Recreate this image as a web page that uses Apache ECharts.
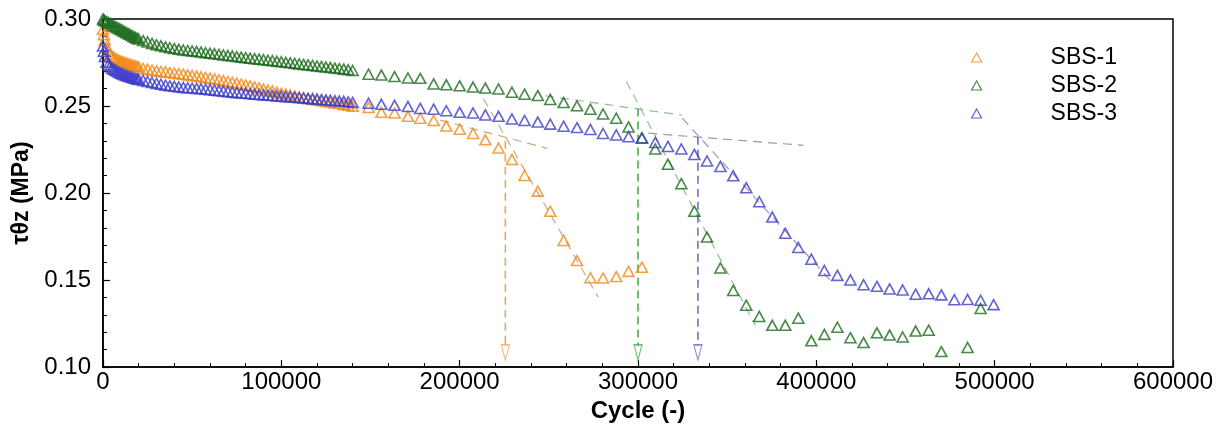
<!DOCTYPE html>
<html><head><meta charset="utf-8">
<script src="https://cdn.jsdelivr.net/npm/echarts/dist/echarts.min.js"></script>
<style>html,body{margin:0;padding:0;background:#fff}#c{width:1225px;height:428px}</style>
</head><body><div id="c"></div>
<script>
const seriesNames = ['SBS-1', 'SBS-2', 'SBS-3'];
const xAxisRange = [0, 600000, 100000];
const yAxisRange = [0.10, 0.30, 0.05];

// early (dense) readings, shared cycle positions
const denseCycles = [0,500,1000,2000,3000,4000,5000,6000,7000,8000,9000,10000,11000,12000,13000,14000,15000,16000,17000,18000,19000,20000,
  22500,25000,27500,30000,32500,35000,37500,40000,42500,45000,47500,50000,52500,55000,57500,60000,62500,65000,67500,70000,
  72500,75000,77500,80000,82500,85000,87500,90000,92500,95000,97500,100000,102500,105000,107500,110000,112500,115000,117500,
  120000,122500,125000,127500,130000,132500,135000,137500,140000];
const sbs1Dense = [0.2940,0.2910,0.2880,0.2840,0.2815,0.2798,0.2785,0.2779,0.2773,0.2768,0.2763,0.2758,0.2754,0.2750,0.2746,0.2743,0.2740,0.2737,0.2734,0.2731,0.2728,0.2725,
  0.2716,0.2711,0.2706,0.2702,0.2699,0.2696,0.2692,0.2689,0.2686,0.2683,0.2679,0.2676,0.2672,0.2668,0.2664,0.2660,0.2656,0.2651,0.2646,0.2641,
  0.2636,0.2631,0.2626,0.2621,0.2616,0.2610,0.2604,0.2598,0.2592,0.2586,0.2580,0.2574,0.2568,0.2563,0.2557,0.2552,0.2547,0.2543,0.2538,
  0.2534,0.2530,0.2526,0.2522,0.2518,0.2514,0.2509,0.2504,0.2499];
const sbs2Dense = [0.3000,0.2995,0.2990,0.2985,0.2980,0.2975,0.2966,0.2960,0.2955,0.2950,0.2945,0.2940,0.2934,0.2928,0.2922,0.2917,0.2912,0.2906,0.2900,0.2895,0.2890,0.2885,
  0.2876,0.2868,0.2860,0.2852,0.2846,0.2840,0.2835,0.2830,0.2826,0.2822,0.2819,0.2816,0.2813,0.2810,0.2806,0.2803,0.2800,0.2797,0.2793,0.2790,
  0.2787,0.2784,0.2781,0.2778,0.2775,0.2772,0.2769,0.2766,0.2763,0.2760,0.2757,0.2754,0.2751,0.2748,0.2745,0.2742,0.2739,0.2736,0.2733,
  0.2730,0.2727,0.2724,0.2721,0.2718,0.2715,0.2712,0.2708,0.2704];
const sbs3Dense = [0.2845,0.2815,0.2785,0.2752,0.2737,0.2727,0.2719,0.2712,0.2706,0.2700,0.2694,0.2689,0.2684,0.2680,0.2676,0.2672,0.2669,0.2665,0.2662,0.2659,0.2656,0.2653,
  0.2647,0.2641,0.2635,0.2630,0.2625,0.2620,0.2616,0.2613,0.2610,0.2607,0.2605,0.2603,0.2601,0.2599,0.2597,0.2594,0.2591,0.2588,0.2585,0.2582,
  0.2579,0.2577,0.2575,0.2573,0.2570,0.2568,0.2566,0.2564,0.2562,0.2560,0.2558,0.2556,0.2554,0.2552,0.2550,0.2548,0.2546,0.2544,0.2542,
  0.2540,0.2537,0.2535,0.2533,0.2531,0.2529,0.2527,0.2524,0.2521];

// later (sparse) readings, shared cycle positions
const sparseCycles = [148900,156100,163500,171000,177900,185400,192500,200000,207500,214400,221800,229300,236400,243800,
  250800,258300,265800,273300,280400,287800,294700,302200,309700,316800,324300,331600,338700,346200,353400,360700,
  368000,375300,382600,389900,397200,404500,411800,419100,426500,434000,441100,448400,455700,463000,470100,477400,
  484800,492100,499400];
const sbs1Sparse = [0.2492,0.2464,0.2460,0.2441,0.2430,0.2417,0.2385,0.2367,0.2342,0.2306,0.2259,0.2193,0.2101,0.2011,
  0.1896,0.1728,0.1612,0.1514,0.1512,0.1520,0.1550,0.1574];
const sbs2Sparse = [0.2683,0.2678,0.2669,0.2661,0.2659,0.2627,0.2622,0.2616,0.2609,0.2603,0.2598,0.2579,0.2568,0.2560,
  0.2538,0.2520,0.2501,0.2482,0.2454,0.2430,0.2380,0.2318,0.2253,0.2166,0.2054,0.1896,0.1747,0.1570,0.1440,0.1356,
  0.1291,0.1240,0.1240,0.1281,0.1151,0.1188,0.1229,0.1169,0.1141,0.1197,0.1184,0.1173,0.1207,0.1212,0.1089,null,
  0.1113,0.1337];
const sbs3Sparse = [0.2516,0.2510,0.2504,0.2497,0.2486,0.2482,0.2473,0.2464,0.2460,0.2449,0.2441,0.2426,0.2417,0.2408,
  0.2396,0.2384,0.2376,0.2365,0.2342,0.2334,0.2324,0.2315,0.2291,0.2268,0.2253,0.2222,0.2184,0.2153,0.2099,0.2030,
  0.1950,0.1862,0.1769,0.1687,0.1620,0.1555,0.1527,0.1501,0.1473,0.1464,0.1449,0.1443,0.1419,0.1421,0.1415,0.1387,
  0.1389,0.1384,0.1359];

// failure-point annotations: cycle, top of vertical guide, arrow level
const failureCycles = [225600, 300000, 333600];
const failureTop = [0.2300, 0.2486, 0.2324];
const guideBottom = 0.1125;
const arrowStress = 0.1084;
// tangent guide lines [[x1,y1],[x2,y2]]
const sbs1Tangents = [[[213300,0.2542],[277700,0.1402]], [[189100,0.2419],[249100,0.2257]]];
const sbs2Tangents = [[[293400,0.2642],[365800,0.1240]], [[248000,0.2559],[324800,0.2447]]];
const sbs3Tangents = [[[324800,0.2430],[409000,0.1486]], [[305800,0.2344],[392700,0.2274]]];

const colors = ['#F08A1C', '#1B6B1B', '#3C3CC8'];
const guideColors = ['#EDA858', '#45B045', '#6E6EC0'];
const tangentColors = ['#C9A887', '#93BE93', '#9797BE'];
const FONT = "'Liberation Sans', Arial, sans-serif";

function pairs(xs, ys) {
  return ys.map((y, i) => (y == null ? null : [xs[i], y])).filter(p => p);
}

const dense = [sbs1Dense, sbs2Dense, sbs3Dense];
const sparse = [sbs1Sparse, sbs2Sparse, sbs3Sparse];
const tangents = [sbs1Tangents, sbs2Tangents, sbs3Tangents];

const series = [];
for (let k = 0; k < 3; k++) {
  tangents[k].forEach((seg, j) => {
    series.push({
      type: 'line', name: 'tan' + k + j, data: seg, symbol: 'none', silent: true, z: 1,
      lineStyle: { color: tangentColors[k], width: 1.2, type: [9, 6] }
    });
  });
  series.push({
    type: 'line', name: 'guide' + k, symbol: 'none', silent: true, z: 1,
    data: [[failureCycles[k], failureTop[k]], [failureCycles[k], guideBottom]],
    lineStyle: { color: guideColors[k], width: 1.6, type: [8, 5] }
  });
  series.push({
    type: 'scatter', name: 'arrow' + k, silent: true, z: 2,
    data: [[failureCycles[k], arrowStress]],
    symbol: 'triangle', symbolRotate: 180, symbolSize: [8, 15],
    itemStyle: { color: 'rgba(255,255,255,0)', borderColor: guideColors[k], borderWidth: 1.3 }
  });
}
for (let k = 0; k < 3; k++) {
  series.push({
    type: 'scatter', name: seriesNames[k], z: 3 + k,
    data: pairs(denseCycles, dense[k]).concat(pairs(sparseCycles, sparse[k])),
    symbol: 'triangle', symbolSize: [11, 10],
    itemStyle: { color: 'rgba(255,255,255,0)', borderColor: colors[k], borderWidth: 1.6 }
  });
}

const chart = echarts.init(document.getElementById('c'), null, { renderer: 'canvas' });
chart.setOption({
  animation: false,
  backgroundColor: '#fff',
  grid: { left: 103, top: 19, right: 52, bottom: 51, show: true, borderColor: '#000', borderWidth: 1.5, backgroundColor: 'transparent' },
  legend: {
    data: seriesNames.map((n, k) => ({ name: n, icon: 'triangle',
      itemStyle: { color: 'rgba(255,255,255,0)', borderColor: colors[k], borderWidth: 1.2 } })),
    orient: 'vertical', left: 966, top: 41, itemWidth: 10, itemHeight: 9, itemGap: 5,
    selectedMode: false,
    formatter: n => '{t|' + n + '}',
    textStyle: { rich: { t: { fontFamily: FONT, fontSize: 23, color: '#000', padding: [0, 0, 0, 64], lineHeight: 24 } } }
  },
  xAxis: {
    type: 'value', min: xAxisRange[0], max: xAxisRange[1], interval: xAxisRange[2],
    name: 'Cycle (-)', nameLocation: 'middle', nameGap: 23,
    nameTextStyle: { fontFamily: FONT, fontSize: 24, fontWeight: 'bold', color: '#000' },
    axisLine: { lineStyle: { color: '#000', width: 1.5 } },
    axisTick: { inside: true, length: 7, lineStyle: { color: '#000', width: 1.2 } },
    minorTick: { show: true, splitNumber: 5, length: 4, lineStyle: { color: '#000', width: 1 } },
    splitLine: { show: false },
    axisLabel: { fontFamily: FONT, fontSize: 24, color: '#000', margin: 3, formatter: v => String(v) }
  },
  yAxis: {
    type: 'value', min: yAxisRange[0], max: yAxisRange[1], interval: yAxisRange[2],
    name: 'τθz (MPa)', nameLocation: 'middle', nameGap: 68, nameRotate: 90,
    nameTextStyle: { fontFamily: FONT, fontSize: 23, fontWeight: 'bold', color: '#000' },
    axisLine: { lineStyle: { color: '#000', width: 1.5 } },
    axisTick: { inside: true, length: 7, lineStyle: { color: '#000', width: 1.2 } },
    minorTick: { show: true, splitNumber: 5, length: 4, lineStyle: { color: '#000', width: 1 } },
    splitLine: { show: false },
    axisLabel: { fontFamily: FONT, fontSize: 24, color: '#000', margin: 12, formatter: v => v.toFixed(2) }
  },
  series: series
});
</script></body></html>
